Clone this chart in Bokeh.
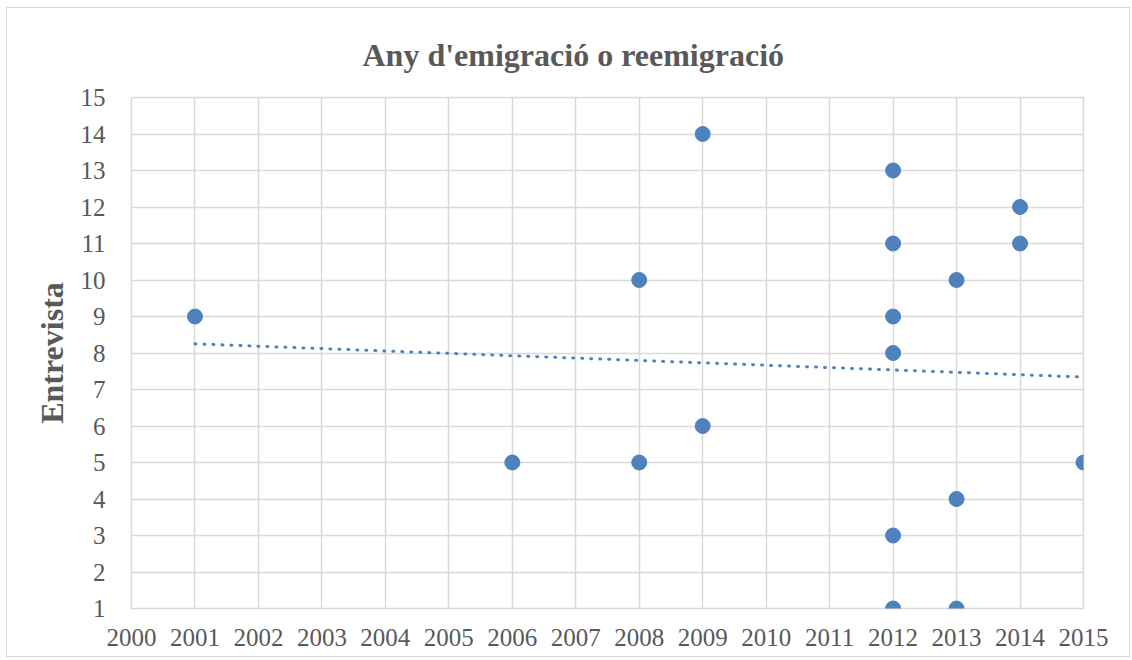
from bokeh.plotting import figure
from bokeh.embed import file_html
from bokeh.resources import INLINE
from bokeh.models import FixedTicker, Range1d, Title
import numpy as np

# Data
years = [2001, 2006, 2008, 2008, 2009, 2009, 2012, 2012, 2012, 2012, 2012, 2012,
         2013, 2013, 2013, 2014, 2014, 2015]
interviews = [9, 5, 10, 5, 14, 6, 13, 11, 9, 8, 3, 1, 10, 4, 1, 12, 11, 5]
x_ticks = list(range(2000, 2016))
y_ticks = list(range(1, 16))

title_text = "Any d'emigració o reemigració"
y_label = "Entrevista"

# Linear trend line computed from the data
xa = np.array(years, dtype=float)
ya = np.array(interviews, dtype=float)
slope, intercept = np.polyfit(xa, ya, 1)
trend_x = [min(years), max(years)]
trend_y = [slope * v + intercept for v in trend_x]

FONT = "Liberation Serif"
TXT = "#595959"
GRID = "#d9d9d9"
BLUE = "#4F81BD"

p = figure(width=1124, height=650, output_backend="svg", toolbar_location=None,
           x_range=Range1d(2000, 2015), y_range=Range1d(1, 15),
           min_border_left=124, min_border_right=48, min_border_top=89, min_border_bottom=50)
p.styles = {"border": "1px solid #d9d9d9", "margin": "7px 0px 0px 6px"}

t = Title(text=title_text, align="left", offset=231, text_font=FONT, text_font_size="32px",
          text_font_style="bold", text_color=TXT, standoff=50)
p.add_layout(t, "above")

p.outline_line_color = GRID
p.outline_line_width = 1.5

for ax in (p.xaxis, p.yaxis):
    ax.axis_line_color = None
    ax.major_tick_line_color = None
    ax.minor_tick_line_color = None
    ax.major_label_text_font = FONT
    ax.major_label_text_font_size = "25px"
    ax.major_label_text_color = TXT

p.xaxis.ticker = FixedTicker(ticks=x_ticks)
p.yaxis.ticker = FixedTicker(ticks=y_ticks)
p.xaxis.major_label_standoff = 14
p.yaxis.major_label_standoff = 20

p.yaxis.axis_label = y_label
p.yaxis.axis_label_text_font = FONT
p.yaxis.axis_label_text_font_size = "32px"
p.yaxis.axis_label_text_font_style = "bold"
p.yaxis.axis_label_text_color = TXT
p.yaxis.axis_label_standoff = 8

p.xgrid.ticker = FixedTicker(ticks=x_ticks)
p.ygrid.ticker = FixedTicker(ticks=y_ticks)
p.grid.grid_line_color = GRID
p.grid.grid_line_width = 1.5

p.line(trend_x, trend_y, line_color=BLUE, line_width=3, line_dash="1 8", line_cap="round")
p.scatter(years, interviews, size=15, fill_color=BLUE, line_color=BLUE)

open("out.html", "w").write(file_html(p, INLINE))
